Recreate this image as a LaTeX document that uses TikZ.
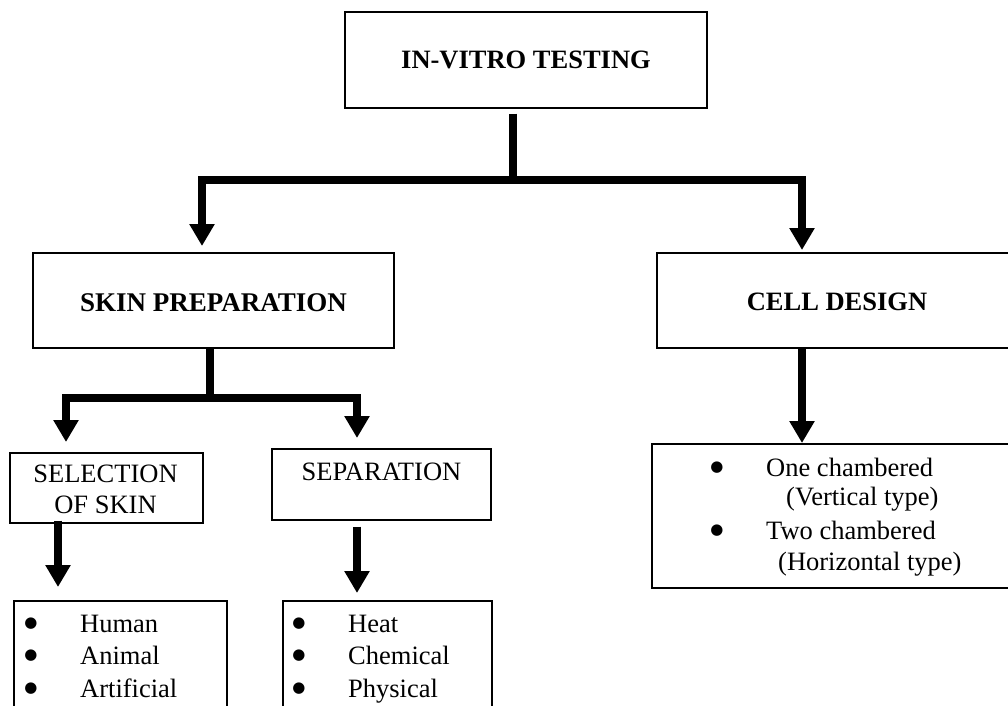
\documentclass[tikz,border=0pt]{standalone}
\usepackage{fontspec}
\setmainfont{Liberation Serif}
\newfontfamily\symfont{DejaVu Sans}
\usetikzlibrary{arrows.meta}
\tikzset{
  txt/.style={font=\fontsize{26.5pt}{32pt}\selectfont, inner sep=0pt},
  box/.style={draw, line width=1.5pt, inner sep=0pt, txt},
  bar/.style={line width=8pt, line join=miter},
  arr/.style={bar, -{Triangle[width=24pt,length=22pt]}},
  bul/.style={font=\symfont\fontsize{15pt}{16pt}\selectfont, inner sep=0pt, anchor=base},
  item/.style={txt, anchor=base west}
}
\begin{document}
\begin{tikzpicture}[x=1pt,y=-1pt]
\clip (0,0) rectangle (1008,705);
% boxes
\node[box, anchor=north, minimum width=362pt, text height=57pt, text depth=39pt, font=\fontsize{26.5pt}{32pt}\selectfont\bfseries] (top) at (526,11) {IN-VITRO TESTING};
\node[box, anchor=north, minimum width=361pt, text height=59pt, text depth=36pt, font=\fontsize{27pt}{32pt}\selectfont\bfseries] (skin) at (213.5,252) {SKIN PREPARATION};
\node[box, anchor=north, minimum width=360pt, text height=58pt, text depth=37pt, font=\fontsize{26.5pt}{32pt}\selectfont\bfseries] (cell) at (837,252) {CELL DESIGN};
\node[box, anchor=north west, minimum width=193pt, minimum height=70pt] (sel) at (9,452) {};
\node[txt, anchor=base] (selt1) at (105.5,482) {SELECTION};
\node[txt, anchor=base] (selt2) at (105.5,513) {OF SKIN};
\node[box, anchor=north, minimum width=219pt, text height=32pt, text depth=39pt] (sep) at (381.5,448) {SEPARATION};
% list boxes
\node[box, anchor=north west, minimum width=213pt, minimum height=130pt] (srcs) at (13,600) {};
\node[bul] (b1) at (31,627) {●};
\node[bul] (b2) at (31,659) {●};
\node[bul] (b3) at (31,692) {●};
\node[item] (h) at (80,632) {Human};
\node[item] (an) at (80,664) {Animal};
\node[item] (ar) at (80,697) {Artificial};
\node[box, anchor=north west, minimum width=209pt, minimum height=130pt] (meth) at (282,600) {};
\node[bul] (b4) at (299,627) {●};
\node[bul] (b5) at (299,659) {●};
\node[bul] (b6) at (299,692) {●};
\node[item] (he) at (348,632) {Heat};
\node[item] (ch) at (348,664) {Chemical};
\node[item] (ph) at (348,697) {Physical};
\node[box, anchor=north west, minimum width=370pt, minimum height=144pt] (types) at (651,443) {};
\node[bul] (b7) at (717,471) {●};
\node[bul] (b8) at (717,534) {●};
\node[item] (o1) at (766,476) {One chambered};
\node[item] (o2) at (786,505) {(Vertical type)};
\node[item] (t1) at (766,539) {Two chambered};
\node[item] (t2) at (778,570) {(Horizontal type)};
% connectors
\coordinate (j1) at (513,180);
\coordinate (a1) at (202,246);
\coordinate (a2) at (802,250);
\draw[bar] ([yshift=-5pt]j1 |- top.south) -- (j1);
\draw[arr] (j1) -| (a1);
\draw[arr] (j1) -| (a2);
\coordinate (j2) at (210,398);
\coordinate (a3) at (66,442);
\coordinate (a4) at (357,438);
\draw[bar] (j2 |- skin.south) -- (j2);
\draw[arr] (j2) -| (a3);
\draw[arr] (j2) -| (a4);
\coordinate (c1) at (58,587);
\draw[arr] ([yshift=3pt]c1 |- sel.south) -- (c1);
\coordinate (c2) at (357,593);
\draw[arr] ([yshift=-6pt]c2 |- sep.south) -- (c2);
\coordinate (c3) at (802,443);
\draw[arr] (c3 |- cell.south) -- (c3);
\end{tikzpicture}
\end{document}
